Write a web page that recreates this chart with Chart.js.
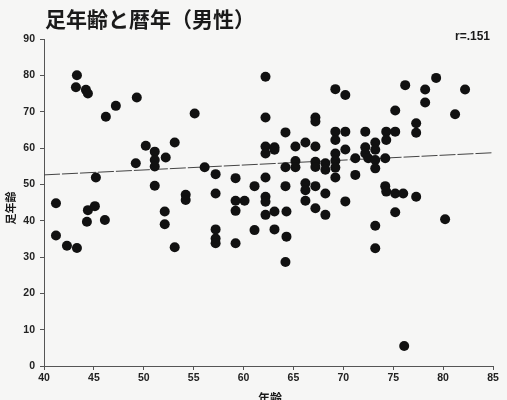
<!DOCTYPE html>
<html lang="ja">
<head>
<meta charset="utf-8">
<title>足年齢と暦年（男性）</title>
<script src="https://cdn.jsdelivr.net/npm/chart.js@4.4.1/dist/chart.umd.min.js"></script>
<style>
  html, body { margin: 0; padding: 0; background: #f6f6f5; }
  #wrap { width: 507px; height: 400px; }
</style>
</head>
<body>
<div id="wrap"><canvas id="c" width="507" height="400"></canvas></div>
<script>
// 暦年齢 (x) と足年齢 (y)、男性
const ages = [
  41.2, 41.2, 42.3, 43.3, 43.3, 43.2, 44.2, 44.4, 44.4, 45.1,
  44.3, 45.2, 46.1, 46.2, 47.2, 49.3, 49.2, 50.2, 51.1, 51.1,
  51.1, 51.1, 52.2, 53.1, 52.1, 52.1, 53.1, 54.2, 54.2, 55.1,
  56.1, 57.2, 57.2, 57.2, 57.2, 57.2, 59.2, 59.2, 60.1, 59.2,
  59.2, 61.1, 61.1, 62.2, 62.2, 62.2, 63.1, 62.2, 63.1, 62.2,
  62.2, 62.2, 62.2, 63.1, 64.3, 63.1, 64.2, 64.2, 65.2, 65.2,
  64.2, 64.3, 64.2, 65.2, 66.2, 66.2, 66.2, 67.2, 66.2, 67.2,
  67.2, 67.2, 67.2, 67.2, 68.2, 68.2, 67.2, 68.2, 68.2, 69.2,
  70.2, 69.2, 69.2, 70.2, 69.2, 70.2, 69.2, 69.2, 69.2, 70.2,
  71.2, 71.2, 72.2, 72.2, 73.2, 72.2, 73.2, 72.5, 73.2, 73.2,
  74.2, 74.3, 75.2, 74.3, 74.2, 74.3, 75.2, 76.0, 77.3, 75.2,
  73.2, 73.2, 75.2, 76.2, 77.3, 77.3, 78.2, 78.2, 79.3, 80.2,
  81.2, 82.2, 76.1
];
const footAges = [
  44.8, 35.9, 33.1, 32.5, 80.0, 76.7, 76.0, 75.0, 42.9, 44.0,
  39.7, 51.9, 40.2, 68.6, 71.6, 73.9, 55.8, 60.6, 59.0, 56.7,
  54.9, 49.6, 57.4, 61.5, 42.5, 39.0, 32.7, 47.1, 45.7, 69.5,
  54.7, 52.8, 47.5, 37.6, 35.1, 33.8, 51.7, 45.5, 45.5, 42.7,
  33.8, 49.5, 37.4, 79.6, 68.4, 60.4, 60.2, 58.5, 59.5, 51.9,
  46.6, 45.2, 41.6, 42.5, 42.5, 37.6, 64.3, 54.7, 56.4, 54.7,
  49.5, 35.6, 28.6, 60.4, 61.5, 50.3, 48.4, 49.5, 45.5, 68.4,
  67.3, 60.4, 56.2, 54.8, 55.8, 54.0, 43.4, 47.5, 41.6, 76.2,
  74.6, 64.5, 62.2, 64.5, 58.5, 59.6, 56.5, 54.6, 51.9, 45.3,
  57.2, 52.6, 64.5, 60.2, 61.5, 58.5, 59.5, 57.2, 56.7, 54.4,
  57.2, 64.5, 64.5, 62.2, 49.5, 48.0, 47.5, 47.5, 46.6, 42.3,
  38.6, 32.4, 70.3, 77.3, 66.8, 64.2, 76.1, 72.5, 79.3, 40.4,
  69.3, 76.1, 5.5
];

// 回帰直線の両端
const fitX = [40, 85];
const fitY = [52.6, 58.7];

const xTicks = [40, 45, 50, 55, 60, 65, 70, 75, 80, 85];
const yTicks = [0, 10, 20, 30, 40, 50, 60, 70, 80, 90];

const titleText = '足年齢と暦年（男性）';
const rText = 'r=.151';
const xTitle = '年齢';
const yTitle = '足年齢';

const points = ages.map((a, i) => ({ x: a, y: footAges[i] }));
const fitLine = fitX.map((a, i) => ({ x: a, y: fitY[i] }));

const tickFont = { family: 'Liberation Sans, Arial, sans-serif', size: 10.5, weight: 'bold' };

const labelsPlugin = {
  id: 'labels',
  beforeDraw(chart) {
    const ctx = chart.ctx;
    ctx.save();
    ctx.fillStyle = '#f6f6f5';
    ctx.fillRect(0, 0, chart.width, chart.height);
    ctx.restore();
  },
  afterDraw(chart) {
    const ctx = chart.ctx;
    const area = chart.chartArea;
    ctx.save();
    ctx.fillStyle = '#1a1a1a';
    ctx.textBaseline = 'alphabetic';

    ctx.font = 'bold 21px "Noto Sans CJK JP", sans-serif';
    ctx.textAlign = 'left';
    ctx.fillText(titleText, 45, 27);

    ctx.font = 'bold 12px "Liberation Sans", Arial, sans-serif';
    ctx.textAlign = 'right';
    ctx.fillText(rText, area.right - 3, 40);

    ctx.font = 'bold 12px "Noto Sans CJK JP", sans-serif';
    ctx.textAlign = 'center';
    ctx.textBaseline = 'top';
    ctx.fillText(xTitle, 270, 392);

    ctx.translate(11, 208);
    ctx.rotate(-Math.PI / 2);
    ctx.font = 'bold 11px "Noto Sans CJK JP", sans-serif';
    ctx.textBaseline = 'middle';
    ctx.fillText(yTitle, 0, 0);
    ctx.restore();
  }
};

new Chart(document.getElementById('c'), {
  type: 'scatter',
  data: {
    datasets: [
      {
        label: '足年齢',
        data: points,
        backgroundColor: '#111111',
        borderColor: '#111111',
        pointRadius: 5,
        pointBorderWidth: 0,
        order: 1
      },
      {
        type: 'line',
        label: '回帰直線',
        data: fitLine,
        borderColor: '#444444',
        borderWidth: 1,
        borderDash: [16, 2],
        pointRadius: 0,
        fill: false,
        order: 2
      }
    ]
  },
  options: {
    responsive: false,
    devicePixelRatio: 1,
    animation: false,
    layout: { padding: { top: 39, right: 14, left: 0, bottom: 0 } },
    plugins: {
      legend: { display: false },
      tooltip: { enabled: false },
      title: { display: false }
    },
    scales: {
      x: {
        type: 'linear',
        min: xTicks[0],
        max: xTicks[xTicks.length - 1],
        afterBuildTicks(scale) { scale.ticks = xTicks.map(v => ({ value: v })); },
        afterFit(scale) { scale.height = 34; },
        ticks: { font: tickFont, color: '#222', padding: 2, maxRotation: 0 },
        grid: { drawOnChartArea: false, drawTicks: true, tickLength: 4, color: '#555' },
        border: { display: true, color: '#555', width: 1 }
      },
      y: {
        type: 'linear',
        min: yTicks[0],
        max: yTicks[yTicks.length - 1],
        afterBuildTicks(scale) { scale.ticks = yTicks.map(v => ({ value: v })); },
        afterFit(scale) { scale.width = 44; },
        ticks: { font: tickFont, color: '#222', padding: 5 },
        grid: { drawOnChartArea: false, drawTicks: true, tickLength: 4, color: '#555' },
        border: { display: true, color: '#555', width: 1 }
      }
    }
  },
  plugins: [labelsPlugin]
});
</script>
</body>
</html>
